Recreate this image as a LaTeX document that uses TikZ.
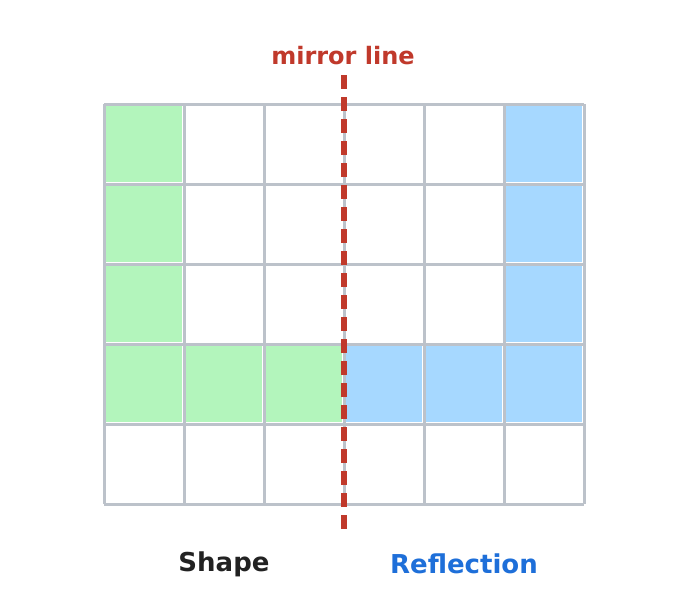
\documentclass[tikz,border=0pt]{standalone}
\usepackage{fontspec}
\setmainfont{DejaVu Sans}
\usetikzlibrary{positioning}
\definecolor{mirrorred}{RGB}{192,57,43}
\definecolor{gridgray}{RGB}{188,194,202}
\definecolor{shapegreen}{RGB}{179,245,188}
\definecolor{reflectblue}{RGB}{166,216,255}
\definecolor{labelblue}{RGB}{30,111,217}
\definecolor{labeldark}{RGB}{34,34,34}
\tikzset{
  cellfill/.style={fill=#1},
  gridline/.style={draw=gridgray,line width=3pt},
  mirror/.style={draw=mirrorred,line width=6pt,dash pattern=on 14pt off 8pt},
  caption/.style={font=\fontsize{26}{30}\selectfont\bfseries}
}
\newcommand{\cell}[3]{% column, row, colour
  \fill[cellfill=#3] ({104+80*#1+2},{104+80*#2+2}) rectangle ({104+80*#1+78},{104+80*#2+78});}
\begin{document}
\begin{tikzpicture}[x=1pt,y=-1pt]
  \useasboundingbox (0,0) rectangle (688,600);
  % grid
  \foreach \i in {0,...,6}
    \draw[gridline] ({104+80*\i},104) -- ({104+80*\i},504);
  \foreach \j in {0,...,5}
    \draw[gridline] (104,{104+80*\j}) -- (584,{104+80*\j});
  % shape
  \foreach \j in {0,1,2,3} \cell{0}{\j}{shapegreen}
  \foreach \i in {1,2} \cell{\i}{3}{shapegreen}
  % reflection
  \foreach \j in {0,1,2,3} \cell{5}{\j}{reflectblue}
  \foreach \i in {3,4} \cell{\i}{3}{reflectblue}
  % mirror line
  \coordinate (mtop) at (344,75);
  \coordinate (mbot) at (344,530);
  \draw[mirror] (mtop) -- (mbot);
  \node[font=\fontsize{24}{28}\selectfont\bfseries,text=mirrorred] (mlabel) at (343,56) {mirror line};
  \node[caption,text=labeldark] (shapelabel) at (224,564) {Shape};
  \node[caption,text=labelblue] (refllabel) at (464,564) {Reflection};
\end{tikzpicture}
\end{document}
